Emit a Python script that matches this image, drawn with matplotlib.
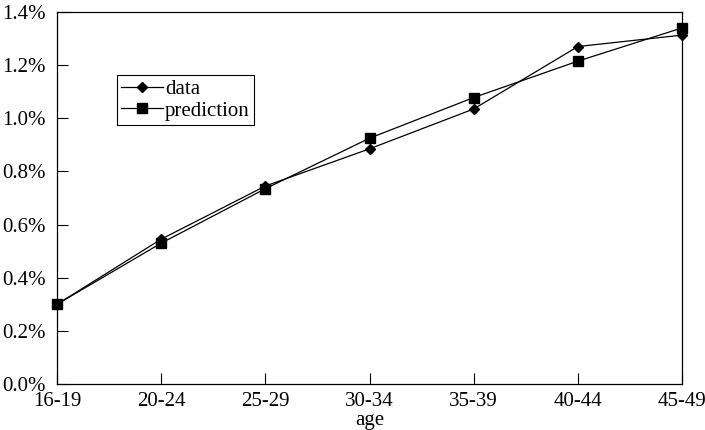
import matplotlib
matplotlib.use("Agg")
import matplotlib.pyplot as plt
from matplotlib.ticker import FuncFormatter

plt.rcParams['font.family'] = ['Liberation Serif', 'DejaVu Serif']

ages = ["16-19", "20-24", "25-29", "30-34", "35-39", "40-44", "45-49"]
data = [0.30, 0.545, 0.745, 0.885, 1.035, 1.27, 1.313]        # percent
prediction = [0.30, 0.53, 0.735, 0.925, 1.078, 1.215, 1.34]   # percent

fig = plt.figure(figsize=(7.05, 4.3), dpi=100)
ax = fig.add_axes([57 / 705, 46 / 430, 625 / 705, 372 / 430])

x = range(len(ages))
ax.plot(x, data, color='black', lw=0.9, marker='D', markersize=5, label='data', clip_on=False)
ax.plot(x, prediction, color='black', lw=0.9, marker='s', markersize=6.5, label='prediction', clip_on=False)

ax.set_xlim(0, len(ages) - 1)
ax.set_ylim(0, 1.4)
ax.set_xticks(list(x))
ax.set_xticklabels(ages)
ax.set_yticks([0, 0.2, 0.4, 0.6, 0.8, 1.0, 1.2, 1.4])
ax.yaxis.set_major_formatter(FuncFormatter(lambda v, p: "%.1f%%" % v))

ax.tick_params(axis='both', direction='in', length=8, width=0.8, labelsize=15, colors='black')
ax.tick_params(axis='x', pad=6)
ax.tick_params(axis='y', pad=8)
for s in ax.spines.values():
    s.set_linewidth(0.9)
    s.set_color('black')

ax.set_xlabel("age", fontsize=15, labelpad=0)

leg = ax.legend(loc='upper left', bbox_to_anchor=(0.096, 0.83), borderaxespad=0,
                fontsize=15, fancybox=False, edgecolor='black', framealpha=1,
                handlelength=2.0, handletextpad=0.1, borderpad=0.2, labelspacing=0.1)
leg.get_frame().set_linewidth(0.8)

fig.savefig("out.png", dpi=100)
